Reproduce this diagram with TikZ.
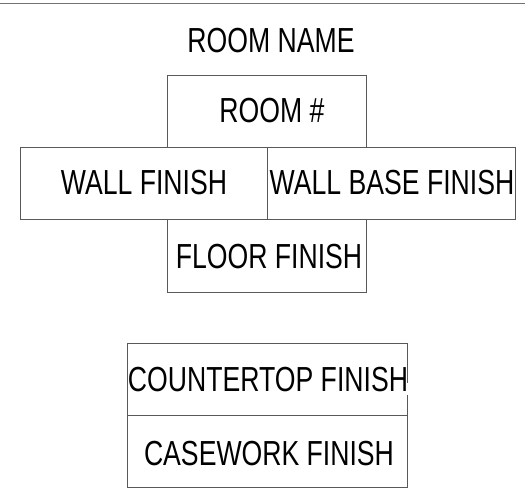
\documentclass[tikz,border=0pt]{standalone}
\usepackage{fontspec}
\setmainfont{Liberation Sans}[FakeStretch=0.765]
\begin{document}
\begin{tikzpicture}[x=1pt,y=-1pt,
  boxline/.style={draw=black!65, line width=0.9pt},
  lbl/.style={fill=white, inner sep=0pt, anchor=base, text height=0.91em, text depth=0.29em,
    font=\fontsize{34.8}{40}\selectfont}]
\useasboundingbox (0,0) rectangle (525,492);
\coordinate (tl) at (0,3.5);
\coordinate (tr) at (525,3.5);
\draw[draw=black!55, line width=1.5pt] (tl) -- (tr);
% boxes
\draw[boxline] (167,75) rectangle (366,147);
\draw[boxline] (20,147) rectangle (267,219);
\draw[boxline] (267,147) rectangle (515,219);
\draw[boxline] (167,219) rectangle (366,292);
\draw[boxline] (127,343) rectangle (407,415);
\draw[boxline] (127,415) rectangle (407,487);
% labels
\node[lbl] (name) at (271,52.3) {ROOM NAME};
\node[lbl] (num) at (272,122.7) {ROOM \#};
\node[lbl] (wall) at (144,194.3) {WALL FINISH};
\node[lbl] (base) at (392,194.3) {WALL BASE FINISH};
\node[lbl] (floor) at (269,268.3) {FLOOR FINISH};
\node[lbl] (counter) at (268,391.7) {COUNTERTOP FINISH};
\node[lbl] (case) at (269,465) {CASEWORK FINISH};
\end{tikzpicture}
\end{document}
